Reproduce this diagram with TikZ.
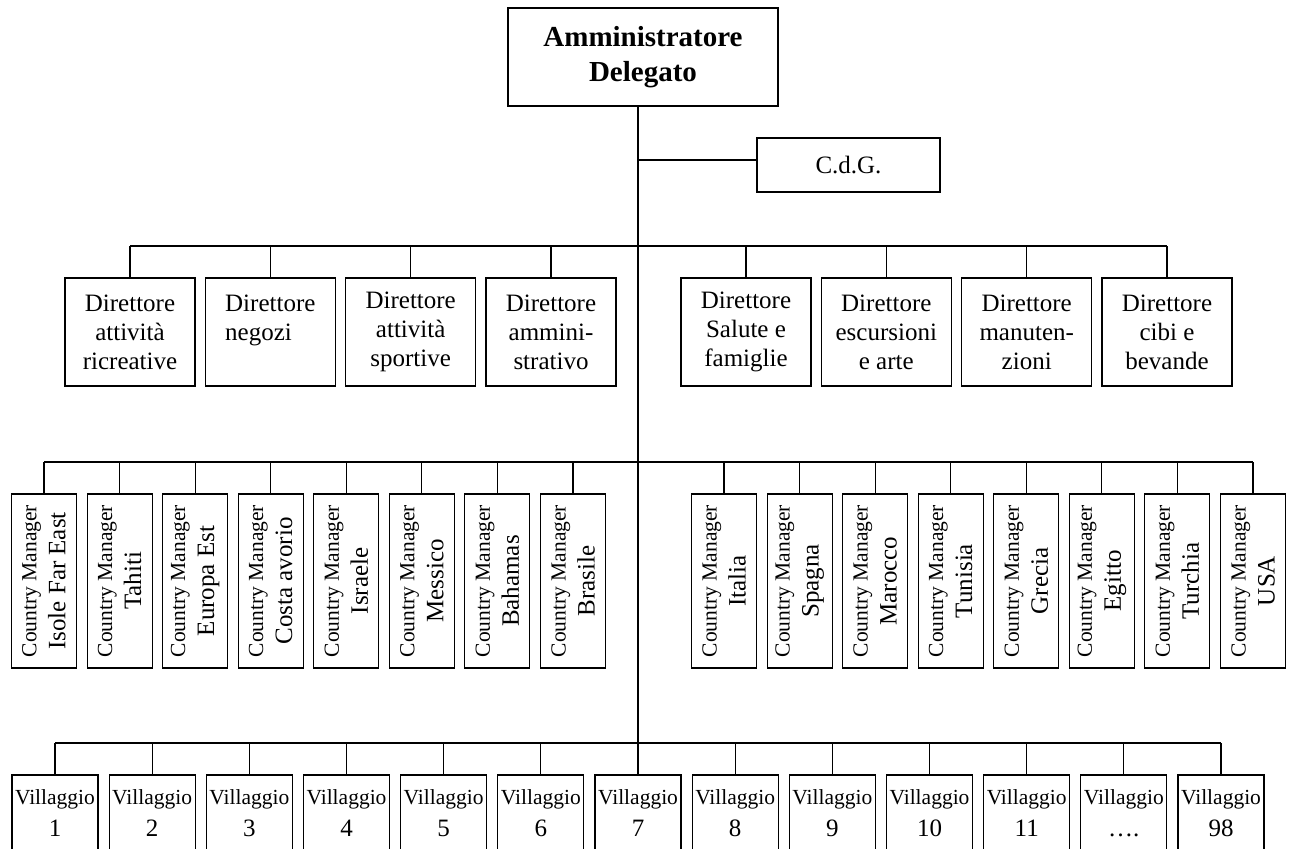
\documentclass[tikz,border=0pt]{standalone}
\usepackage{fontspec}
\setmainfont{Liberation Serif}
\begin{document}
\begin{tikzpicture}[x=1pt,y=-1pt,line width=1.1pt,
  box/.style={draw,inner sep=0pt,align=center},
  topbox/.style={box,minimum width=270pt,minimum height=98pt,font=\fontsize{29}{35}\selectfont\bfseries},
  cdgbox/.style={box,minimum width=183pt,minimum height=54pt,font=\fontsize{25}{29}\selectfont},
  dirbox/.style={box,minimum width=130pt,minimum height=108pt,font=\fontsize{25}{29}\selectfont},
  cmbox/.style={box,rotate=90,minimum width=174pt,minimum height=65pt,font=\fontsize{25}{29}\selectfont},
  villbox/.style={box,minimum width=86pt,minimum height=77pt,font=\fontsize{25}{32}\selectfont},
]
\path[use as bounding box,clip] (0,0) rectangle (1292,848);

% top
\node[topbox] (ad) at (643,57) {Amministratore\\Delegato};
\node[cdgbox] (cdg) at (848.5,165) {C.d.G.};

% directors
\node[dirbox] (d1) at (130,332) {Direttore\\attività\\ricreative};
\node[dirbox,align=left] (d2) at (270.3,332) {Direttore\\negozi\\\mbox{}};
\node[dirbox] (d3) at (410.7,332) {Direttore\\attività\\sportive};
\node[dirbox] (d4) at (551,332) {Direttore\\ammini-\\strativo};
\node[dirbox] (d5) at (746,332) {Direttore\\Salute e\\famiglie};
\node[dirbox] (d6) at (886.3,332) {Direttore\\escursioni\\e arte};
\node[dirbox] (d7) at (1026.7,332) {Direttore\\manuten-\\zioni};
\node[dirbox] (d8) at (1167,332) {Direttore\\cibi e\\bevande};

% country managers
\newcommand{\cmtxt}{{\fontsize{21.5}{29}\selectfont Country Manager}}
\node[cmbox] (c1) at (44,581) {\cmtxt\\Isole Far East};
\node[cmbox] (c2) at (119.6,581) {\cmtxt\\Tahiti};
\node[cmbox] (c3) at (195.1,581) {\cmtxt\\Europa Est};
\node[cmbox] (c4) at (270.7,581) {\cmtxt\\Costa avorio};
\node[cmbox] (c5) at (346.3,581) {\cmtxt\\Israele};
\node[cmbox] (c6) at (421.9,581) {\cmtxt\\Messico};
\node[cmbox] (c7) at (497.4,581) {\cmtxt\\Bahamas};
\node[cmbox] (c8) at (573,581) {\cmtxt\\Brasile};
\node[cmbox] (c9) at (724,581) {\cmtxt\\Italia};
\node[cmbox] (c10) at (799.6,581) {\cmtxt\\Spagna};
\node[cmbox] (c11) at (875.1,581) {\cmtxt\\Marocco};
\node[cmbox] (c12) at (950.7,581) {\cmtxt\\Tunisia};
\node[cmbox] (c13) at (1026.3,581) {\cmtxt\\Grecia};
\node[cmbox] (c14) at (1101.9,581) {\cmtxt\\Egitto};
\node[cmbox] (c15) at (1177.4,581) {\cmtxt\\Turchia};
\node[cmbox] (c16) at (1253,581) {\cmtxt\\USA};

% villages
\newcommand{\vltxt}{{\fontsize{21.5}{32}\selectfont Villaggio}}
\node[villbox] (v1) at (55,813.5) {\vltxt\\1};
\node[villbox] (v2) at (152.2,813.5) {\vltxt\\2};
\node[villbox] (v3) at (249.3,813.5) {\vltxt\\3};
\node[villbox] (v4) at (346.5,813.5) {\vltxt\\4};
\node[villbox] (v5) at (443.7,813.5) {\vltxt\\5};
\node[villbox] (v6) at (540.8,813.5) {\vltxt\\6};
\node[villbox] (v7) at (638,813.5) {\vltxt\\7};
\node[villbox] (v8) at (735.2,813.5) {\vltxt\\8};
\node[villbox] (v9) at (832.3,813.5) {\vltxt\\9};
\node[villbox] (v10) at (929.5,813.5) {\vltxt\\10};
\node[villbox] (v11) at (1026.7,813.5) {\vltxt\\11};
\node[villbox] (v12) at (1123.8,813.5) {\vltxt\\….};
\node[villbox] (v13) at (1221,813.5) {\vltxt\\98};

% connectors
\coordinate (cj) at (638,160);
\coordinate (dbus) at (638,246);
\coordinate (cbus) at (638,462);
\coordinate (vbus) at (638,743);
\draw (ad.south -| v7.north) -- (v7.north);
\draw (cj) -- (cj -| cdg.west);
\draw (d1.north |- dbus) -- (d8.north |- dbus);
\foreach \i in {1,...,8} \draw (d\i.north) -- (d\i.north |- dbus);
\draw (c1.east |- cbus) -- (c16.east |- cbus);
\foreach \i in {1,...,16} \draw (c\i.east) -- (c\i.east |- cbus);
\draw (v1.north |- vbus) -- (v13.north |- vbus);
\foreach \i in {1,...,13} \draw (v\i.north) -- (v\i.north |- vbus);
\end{tikzpicture}
\end{document}
